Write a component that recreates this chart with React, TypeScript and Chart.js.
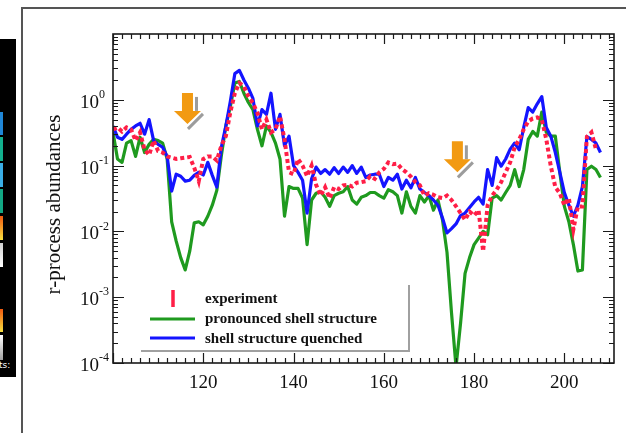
import React, { useEffect, useRef } from "react";
import { Chart, registerables } from "chart.js";

Chart.register(...registerables);

// Mass numbers A (x axis)
const massNumbers = [
  100, 101, 102, 103, 104, 105, 106, 107, 108, 109,
  110, 111, 112, 113, 114, 115, 116, 117, 118, 119,
  120, 121, 122, 123, 124, 125, 126, 127, 128, 129,
  130, 131, 132, 133, 134, 135, 136, 137, 138, 139,
  140, 141, 142, 143, 144, 145, 146, 147, 148, 149,
  150, 151, 152, 153, 154, 155, 156, 157, 158, 159,
  160, 161, 162, 163, 164, 165, 166, 167, 168, 169,
  170, 171, 172, 173, 174, 175, 176, 177, 178, 179,
  180, 181, 182, 183, 184, 185, 186, 187, 188, 189,
  190, 191, 192, 193, 194, 195, 196, 197, 198, 199,
  200, 201, 202, 203, 204, 205, 206, 207, 208,
];

// "shell structure quenched" (blue)
const quenched = [
  0.40, 0.27, 0.25, 0.30, 0.355, 0.40, 0.44, 0.30, 0.50, 0.24,
  0.21, 0.19, 0.138, 0.041, 0.074, 0.069, 0.058, 0.060, 0.071, 0.079,
  0.072, 0.112, 0.071, 0.047, 0.19, 0.40, 0.95, 2.5, 2.8, 2.0,
  1.5, 1.05, 0.40, 0.71, 0.60, 1.26, 0.355, 0.60, 0.20, 0.28,
  0.10, 0.079, 0.060, 0.019, 0.063, 0.095, 0.076, 0.087, 0.074, 0.093,
  0.076, 0.095, 0.079, 0.10, 0.076, 0.095, 0.066, 0.072, 0.074, 0.074,
  0.048, 0.066, 0.060, 0.074, 0.044, 0.060, 0.046, 0.066, 0.044, 0.039,
  0.035, 0.030, 0.025, 0.016, 0.0095, 0.011, 0.013, 0.0174, 0.019, 0.023,
  0.028, 0.033, 0.026, 0.087, 0.050, 0.132, 0.098, 0.126, 0.178, 0.22,
  0.174, 0.38, 0.76, 0.65, 0.87, 1.12, 0.38, 0.28, 0.158, 0.079,
  0.039, 0.025, 0.017, 0.025, 0.048, 0.275, 0.25, 0.22, 0.158,
];

// "pronounced shell structure" (green)
const pronounced = [
  0.32, 0.126, 0.112, 0.22, 0.24, 0.138, 0.27, 0.158, 0.21, 0.25,
  0.24, 0.22, 0.126, 0.014, 0.0071, 0.004, 0.0026, 0.005, 0.0135, 0.014,
  0.0126, 0.017, 0.025, 0.042, 0.141, 0.40, 0.79, 1.8, 1.9, 1.26,
  0.91, 0.71, 0.355, 0.20, 0.40, 0.32, 0.22, 0.126, 0.017, 0.048,
  0.045, 0.045, 0.032, 0.0063, 0.030, 0.038, 0.040, 0.033, 0.024, 0.035,
  0.038, 0.040, 0.048, 0.030, 0.026, 0.033, 0.035, 0.039, 0.039, 0.035,
  0.032, 0.043, 0.040, 0.035, 0.019, 0.040, 0.024, 0.019, 0.035, 0.028,
  0.035, 0.021, 0.030, 0.015, 0.0048, 0.00058, 0.000087, 0.0004, 0.0023, 0.004,
  0.0063, 0.0079, 0.010, 0.0089, 0.032, 0.035, 0.030, 0.039, 0.050, 0.087,
  0.048, 0.087, 0.25, 0.33, 0.28, 0.65, 0.32, 0.28, 0.28, 0.079,
  0.024, 0.014, 0.0063, 0.0025, 0.0026, 0.087, 0.098, 0.087, 0.066,
];

// "experiment" (red), A = 100 ... 207
const experiment = [
  0.355, 0.38, 0.33, 0.38, 0.355, 0.24, 0.32, 0.174, 0.145, 0.24,
  0.166, 0.158, 0.138, 0.132, 0.126, 0.129, 0.132, 0.135, 0.093, 0.058,
  0.126, 0.138, 0.138, 0.12, 0.20, 0.28, 0.65, 1.26, 1.8, 1.6,
  1.12, 0.89, 0.63, 0.355, 0.50, 0.32, 0.355, 0.56, 0.25, 0.079,
  0.074, 0.126, 0.10, 0.069, 0.10, 0.051, 0.035, 0.047, 0.032, 0.047,
  0.044, 0.050, 0.051, 0.048, 0.055, 0.056, 0.058, 0.069, 0.063, 0.079,
  0.089, 0.112, 0.105, 0.107, 0.089, 0.079, 0.068, 0.056, 0.050, 0.035,
  0.038, 0.036, 0.033, 0.032, 0.035, 0.030, 0.024, 0.019, 0.015, 0.020,
  0.0174, 0.021, 0.005, 0.025, 0.035, 0.043, 0.056, 0.079, 0.112, 0.19,
  0.25, 0.355, 0.47, 0.52, 0.54, 0.50, 0.25, 0.098, 0.047, 0.038,
  0.025, 0.032, 0.0107, 0.024, 0.024, 0.275, 0.32, 0.178,
];

const xTickLabels = [120, 140, 160, 180, 200];
const yTickValues = [1, 0.1, 0.01, 0.001, 0.0001];
const yTickExponents = ["0", "-1", "-2", "-3", "-4"];
const yTitle = "r-process abundances";
const legendLabels = ["experiment", "pronounced shell structure", "shell structure quenched"];
// orange arrows: tip position in data units (A, abundance)
const arrowTipsA = [116.5, 176.3];
const arrowTipsY = [0.43, 0.079];

const RED = "#ff1e46";
const GREEN = "#1f9a1f";
const BLUE = "#1414ff";
const SERIF = '"Liberation Serif", "Times New Roman", serif';

const decorPlugin = {
  id: "decor",
  afterDatasetsDraw(chart: any) {
    const { ctx, chartArea: ca, scales } = chart;
    const xs = scales.x;
    const ys = scales.y;
    ctx.save();

    // arrows
    for (let i = 0; i < arrowTipsA.length; i++) {
      const tx = xs.getPixelForValue(arrowTipsA[i]);
      const ty = ys.getPixelForValue(arrowTipsY[i]);
      ctx.strokeStyle = "#9c9c9c";
      ctx.lineWidth = 3;
      ctx.lineCap = "butt";
      ctx.beginPath();
      ctx.moveTo(tx + 9, ty - 27);
      ctx.lineTo(tx + 9, ty - 13);
      ctx.stroke();
      ctx.beginPath();
      ctx.moveTo(tx + 15.5, ty - 10);
      ctx.lineTo(tx + 0.5, ty + 5);
      ctx.stroke();
      ctx.fillStyle = "#f29a12";
      ctx.beginPath();
      ctx.moveTo(tx - 5.5, ty - 31);
      ctx.lineTo(tx + 5.5, ty - 31);
      ctx.lineTo(tx + 5.5, ty - 13);
      ctx.lineTo(tx + 13.5, ty - 13);
      ctx.lineTo(tx, ty);
      ctx.lineTo(tx - 13.5, ty - 13);
      ctx.lineTo(tx - 5.5, ty - 13);
      ctx.closePath();
      ctx.fill();
    }

    // frame
    ctx.strokeStyle = "#1a1a1a";
    ctx.lineWidth = 1.6;
    ctx.strokeRect(ca.left, ca.top, ca.right - ca.left, ca.bottom - ca.top);

    // x ticks (inside, top and bottom)
    ctx.lineWidth = 1.2;
    ctx.beginPath();
    for (let v = 100; v <= 210; v += 2) {
      const px = Math.round(xs.getPixelForValue(v)) + 0.5;
      const len = v % 20 === 0 ? 10 : 5;
      ctx.moveTo(px, ca.bottom);
      ctx.lineTo(px, ca.bottom - len);
      ctx.moveTo(px, ca.top);
      ctx.lineTo(px, ca.top + len);
    }
    // y ticks (log, inside, left and right)
    for (let d = -4; d <= 0; d++) {
      for (let m = 1; m <= 9; m++) {
        const v = m * Math.pow(10, d);
        const py = Math.round(ys.getPixelForValue(v)) + 0.5;
        const len = m === 1 ? 11 : 5;
        ctx.moveTo(ca.left, py);
        ctx.lineTo(ca.left + len, py);
        ctx.moveTo(ca.right, py);
        ctx.lineTo(ca.right - len, py);
      }
    }
    ctx.stroke();

    // x tick labels
    ctx.fillStyle = "#111";
    ctx.font = `19px ${SERIF}`;
    ctx.textAlign = "center";
    ctx.textBaseline = "middle";
    xTickLabels.forEach((v) => {
      ctx.fillText(String(v), xs.getPixelForValue(v), ca.bottom + 20);
    });

    // y tick labels 10^n
    yTickValues.forEach((v, i) => {
      const py = ys.getPixelForValue(v);
      ctx.font = `19px ${SERIF}`;
      ctx.textAlign = "right";
      ctx.fillText("10", ca.left - 14, py + 3);
      ctx.font = `12px ${SERIF}`;
      ctx.textAlign = "left";
      ctx.fillText(yTickExponents[i], ca.left - 14, py - 5);
    });

    // y title
    ctx.save();
    ctx.translate(54, (ca.top + ca.bottom) / 2 + 6);
    ctx.rotate(-Math.PI / 2);
    ctx.font = `21px ${SERIF}`;
    ctx.textAlign = "center";
    ctx.textBaseline = "middle";
    ctx.fillText(yTitle, 0, 0);
    ctx.restore();

    // legend (shadow box + entries)
    const lx = ca.left + 28;
    const ly = ca.bottom - 78;
    ctx.strokeStyle = "#a0a0a0";
    ctx.lineWidth = 2;
    ctx.beginPath();
    ctx.moveTo(lx + 268, ly);
    ctx.lineTo(lx + 268, ly + 66);
    ctx.lineTo(lx, ly + 66);
    ctx.stroke();

    ctx.strokeStyle = RED;
    ctx.lineWidth = 3.5;
    ctx.beginPath();
    ctx.moveTo(lx + 32, ly + 5);
    ctx.lineTo(lx + 32, ly + 22);
    ctx.stroke();
    ctx.strokeStyle = GREEN;
    ctx.lineWidth = 3;
    ctx.beginPath();
    ctx.moveTo(lx + 9, ly + 34);
    ctx.lineTo(lx + 54, ly + 34);
    ctx.stroke();
    ctx.strokeStyle = BLUE;
    ctx.beginPath();
    ctx.moveTo(lx + 9, ly + 53);
    ctx.lineTo(lx + 54, ly + 53);
    ctx.stroke();

    ctx.fillStyle = "#111";
    ctx.font = `bold 15px ${SERIF}`;
    ctx.textAlign = "left";
    ctx.textBaseline = "middle";
    legendLabels.forEach((t, i) => {
      ctx.fillText(t, lx + 64, ly + 14 + i * 20);
    });
    ctx.restore();
  },
};

export default function App() {
  const canvasRef = useRef<HTMLCanvasElement | null>(null);

  useEffect(() => {
    const canvas = canvasRef.current;
    if (!canvas) return;
    const toPoints = (vals: number[]) => vals.map((v, i) => ({ x: massNumbers[i], y: v }));
    const chart = new Chart(canvas, {
      type: "line",
      data: {
        datasets: [
          {
            label: legendLabels[0],
            data: toPoints(experiment),
            borderColor: RED,
            borderWidth: 4,
            borderDash: [4, 3],
            pointRadius: 0,
            order: 0,
          },
          {
            label: legendLabels[2],
            data: toPoints(quenched),
            borderColor: BLUE,
            borderWidth: 3.2,
            borderJoinStyle: "round",
            pointRadius: 0,
            order: 1,
          },
          {
            label: legendLabels[1],
            data: toPoints(pronounced),
            borderColor: GREEN,
            borderWidth: 3.2,
            borderJoinStyle: "round",
            pointRadius: 0,
            order: 2,
          },
        ],
      },
      options: {
        responsive: false,
        animation: false,
        devicePixelRatio: 1,
        layout: { padding: { left: 113, right: 12, top: 34, bottom: 70 } },
        plugins: { legend: { display: false }, tooltip: { enabled: false } },
        scales: {
          x: { type: "linear", min: 100, max: 211, display: false },
          y: { type: "logarithmic", min: 0.0001, max: 10, display: false },
        },
      },
      plugins: [decorPlugin],
    });
    return () => chart.destroy();
  }, []);

  const sq = (top: number, h: number, bg: string) => (
    <div style={{ position: "absolute", left: 0, top, width: 3, height: h, background: bg }} />
  );

  return (
    <div style={{ position: "absolute", left: 0, top: 0, width: 626, height: 433, background: "#fff", overflow: "hidden" }}>
      <div style={{ position: "absolute", left: 0, top: 39, width: 16, height: 338, background: "#000" }} />
      {sq(112, 23, "#1f86d6")}
      {sq(137, 24, "#12b08e")}
      {sq(163, 24, "#3aaee6")}
      {sq(189, 24, "#12a884")}
      {sq(216, 24, "linear-gradient(#f05a10, #f8e040)")}
      {sq(243, 24, "linear-gradient(#d0d0d0, #ffffff)")}
      {sq(309, 23, "linear-gradient(#f05a10, #f8e040)")}
      {sq(335, 25, "linear-gradient(#ffffff, #a0a0a0)")}
      <div style={{ position: "absolute", left: -1, top: 360, color: "#fff", font: "9px 'DejaVu Sans', sans-serif" }}>ts:</div>
      <div style={{ position: "absolute", left: 21, top: 7, width: 700, height: 500, borderTop: "2px solid #555", borderLeft: "2px solid #555" }} />
      <canvas ref={canvasRef} width={626} height={433} style={{ position: "absolute", left: 0, top: 0 }} />
    </div>
  );
}
